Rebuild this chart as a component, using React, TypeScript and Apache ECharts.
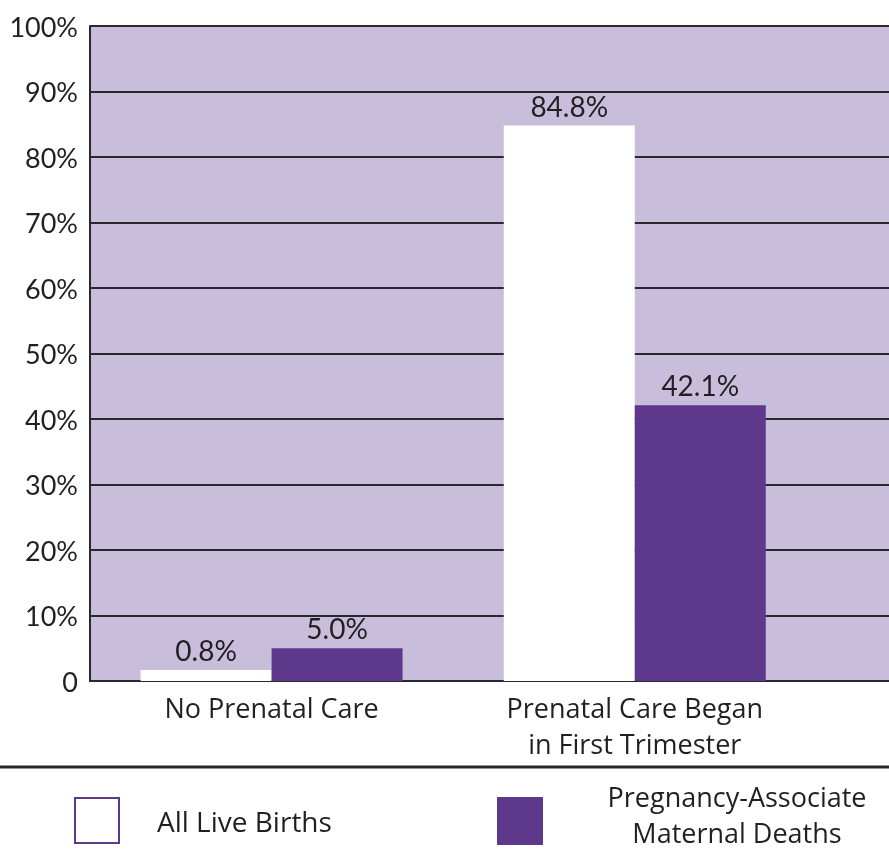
import React, { useEffect, useRef } from "react";
import * as echarts from "echarts";

const categories = ["No Prenatal Care", "Prenatal Care Began\nin First Trimester"];
const liveBirths = [0.8, 84.8];
const maternalDeaths = [5.0, 42.1];
const seriesNames = ["All Live Births", "Pregnancy-Associated Maternal Deaths"];
const legendLabels = ["All Live Births", "Pregnancy-Associate\nMaternal Deaths"];

const NUM_FONT = "Lato";
const FONT = "Open Sans";
const TEXT = "#231f20";
const PURPLE = "#5e388a";
const BG = "#c8bedb";
const LINE = "#2b2730";

export default function App() {
  const ref = useRef<HTMLDivElement>(null);
  useEffect(() => {
    if (!ref.current) return;
    const chart = echarts.init(ref.current, null, { renderer: "svg" });
    const pos = (i: number) => i + 0.5;
    const valueLabel = {
      show: true,
      position: "top",
      distance: 6,
      formatter: (p: any) => p.value[1].toFixed(1) + "%",
      color: TEXT,
      fontFamily: NUM_FONT,
      fontSize: 28,
    };
    chart.setOption({
      animation: false,
      textStyle: { fontFamily: FONT },
      grid: { left: 90, top: 26, right: 0, bottom: 180, backgroundColor: BG, show: true, borderWidth: 0 },
      xAxis: {
        type: "value",
        min: 0,
        max: 2.2,
        splitLine: { show: false },
        axisTick: { show: false },
        axisLine: { show: true, lineStyle: { color: LINE, width: 2 } },
        axisLabel: {
          customValues: categories.map((_, i) => pos(i)),
          formatter: (v: number) => categories[Math.round(v - 0.5)] ?? "",
          color: TEXT,
          fontFamily: FONT,
          fontSize: 27,
          lineHeight: 36,
          margin: 8,
        },
      },
      yAxis: {
        type: "value",
        min: 0,
        max: 100,
        interval: 10,
        axisLine: { show: true, lineStyle: { color: LINE, width: 2 } },
        axisTick: { show: false },
        splitLine: { show: true, lineStyle: { color: LINE, width: 2 } },
        axisLabel: {
          formatter: (v: number) => (v === 0 ? "0" : v + "%"),
          color: TEXT,
          fontFamily: NUM_FONT,
          fontSize: 27,
          margin: 12,
        },
      },
      series: [
        {
          name: seriesNames[0],
          type: "bar",
          data: liveBirths.map((v, i) => [pos(i), v]),
          barWidth: 131,
          barGap: "0%",
          barMinHeight: 11,
          itemStyle: { color: "#ffffff" },
          label: valueLabel,
        },
        {
          name: seriesNames[1],
          type: "bar",
          data: maternalDeaths.map((v, i) => [pos(i), v]),
          barWidth: 131,
          barGap: "0%",
          itemStyle: { color: PURPLE },
          label: valueLabel,
        },
      ],
      graphic: [
        { type: "line", shape: { x1: 0, y1: 767, x2: 889, y2: 767 }, style: { stroke: LINE, lineWidth: 3 } },
        {
          type: "rect",
          shape: { x: 75, y: 798, width: 44, height: 45 },
          style: { fill: "#ffffff", stroke: PURPLE, lineWidth: 2 },
        },
        {
          type: "text",
          x: 157,
          y: 821,
          style: { text: legendLabels[0], fill: TEXT, font: `28px '${FONT}'`, textVerticalAlign: "middle" },
        },
        {
          type: "rect",
          shape: { x: 497, y: 797, width: 46, height: 48 },
          style: { fill: PURPLE },
        },
        {
          type: "text",
          x: 737,
          y: 814,
          style: {
            text: legendLabels[1],
            fill: TEXT,
            font: `27px '${FONT}'`,
            lineHeight: 36,
            textAlign: "center",
            textVerticalAlign: "middle",
          },
        },
      ],
    });
    return () => chart.dispose();
  }, []);
  return <div ref={ref} style={{ position: "fixed", left: 0, top: 0, width: 889, height: 861 }} />;
}
